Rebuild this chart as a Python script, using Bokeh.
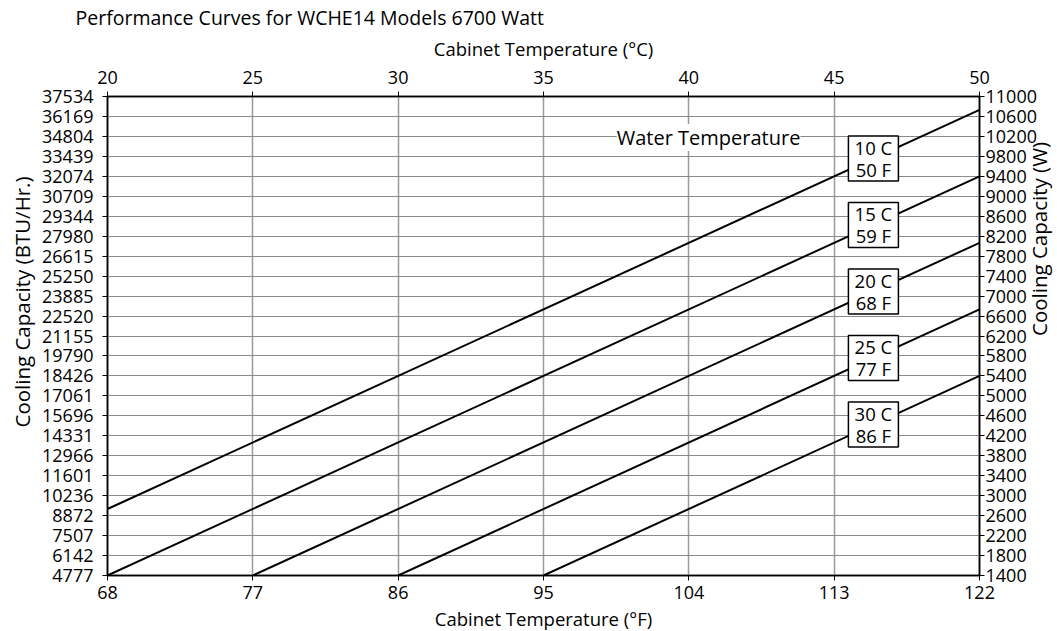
import math
from bokeh.plotting import figure
from bokeh.models import LinearAxis, FixedTicker, Label, ColumnDataSource, Range1d, Title
from bokeh.core.properties import value
from bokeh.embed import file_html
from bokeh.resources import INLINE

# ---- data ----
c_ticks = [20, 25, 30, 35, 40, 45, 50]
f_labels = ["68", "77", "86", "95", "104", "113", "122"]
w_ticks = list(range(1400, 11001, 400))
btu_labels = ["4777", "6142", "7507", "8872", "10236", "11601", "12966", "14331",
              "15696", "17061", "18426", "19790", "21155", "22520", "23885", "25250",
              "26615", "27980", "29344", "30709", "32074", "33439", "34804", "36169", "37534"]

water_c = ["10 C", "15 C", "20 C", "25 C", "30 C"]
water_f = ["50 F", "59 F", "68 F", "77 F", "86 F"]
start_c = [20, 20, 25, 30, 35]
start_w = [2733, 1400, 1400, 1400, 1400]
end_c = [50, 50, 50, 50, 50]
end_w = [10733, 9400, 8067, 6733, 5400]

FONT = "Open Sans"
TS = "18px"
LS = "18.5px"
SS = "20.5px"

p = figure(frame_width=872, frame_height=479,
           x_range=Range1d(20, 50), y_range=Range1d(1400, 11000),
           x_axis_location="above", output_backend="svg", toolbar_location=None,
           min_border_left=107, min_border_top=96, min_border_right=70, min_border_bottom=54)

p.title.text = "Performance Curves for WCHE14 Models 6700 Watt"
p.title.align = "left"
p.title.offset = -32
p.title.standoff = 3
p.title.text_font = FONT
p.title.text_font_size = "19.5px"
p.title.text_font_style = "normal"
p.title.text_color = "black"

def style_axis(ax, standoff):
    ax.major_label_text_font = FONT
    ax.major_label_text_font_size = TS
    ax.major_label_text_color = "black"
    ax.axis_label_text_font = FONT
    ax.axis_label_text_font_size = LS
    ax.axis_label_text_font_style = "normal"
    ax.axis_label_text_color = "black"
    ax.minor_tick_line_color = None
    ax.major_tick_in = 0
    ax.major_tick_out = 5
    ax.major_tick_line_color = "black"
    ax.axis_line_color = "black"
    ax.axis_line_width = 1.5
    ax.major_label_standoff = standoff
    ax.axis_label_standoff = 6

# top axis (°C)
top = p.xaxis[0]
top.ticker = FixedTicker(ticks=c_ticks)
top.axis_label = "Cabinet Temperature (°C)"
style_axis(top, 8)
top.axis_label_standoff = 7

# bottom axis (°F)
bottom = LinearAxis(ticker=FixedTicker(ticks=c_ticks),
                    major_label_overrides={c: f for c, f in zip(c_ticks, f_labels)},
                    axis_label="Cabinet Temperature (°F)")
style_axis(bottom, 5)
bottom.axis_label_standoff = 4
p.add_layout(bottom, "below")

# left axis (BTU/Hr)
left = p.yaxis[0]
left.ticker = FixedTicker(ticks=w_ticks)
left.major_label_overrides = {w: b for w, b in zip(w_ticks, btu_labels)}
style_axis(left, 9)

# right axis (W)
right = LinearAxis(ticker=FixedTicker(ticks=w_ticks), axis_label="Cooling Capacity (W)")
style_axis(right, 1)
right.axis_label_text_font_size = SS
right.axis_label_orientation = math.pi / 2
right.axis_label_standoff = -1
p.add_layout(right, "right")

# left side title (slightly above centre, as in the original)
lt = Title(text="Cooling Capacity (BTU/Hr.)", align="left", offset=148, standoff=8,
           text_font=FONT, text_font_size=SS, text_font_style="normal", text_color="black")
p.add_layout(lt, "left")

p.xgrid.ticker = FixedTicker(ticks=c_ticks)
p.xgrid.grid_line_color = "#9a9a9a"
p.xgrid.grid_line_width = 1.5
p.ygrid.ticker = FixedTicker(ticks=w_ticks)
p.ygrid.grid_line_color = "#8a8a8a"
p.ygrid.grid_line_width = 1

p.outline_line_color = "black"
p.outline_line_width = 1.5

# performance lines
p.multi_line(xs=[[s, e] for s, e in zip(start_c, end_c)],
             ys=[[s, e] for s, e in zip(start_w, end_w)],
             line_color="black", line_width=2)

# label boxes placed on each line
box_x = 46.35
box_y = [sw + (ew - sw) * (box_x - sc) / (ec - sc)
         for sc, sw, ec, ew in zip(start_c, start_w, end_c, end_w)]
src = ColumnDataSource(dict(x=[box_x] * 5, y=box_y, c=water_c, f=water_f))
p.rect(x="x", y="y", width=50, height=45, width_units="screen", height_units="screen",
       source=src, fill_color="white", line_color="black", line_width=1.5)
p.text(x="x", y="y", text="c", source=src, text_font=value(FONT), text_color="black",
       text_font_size=LS, text_align="center", text_baseline="middle", y_offset=-11)
p.text(x="x", y="y", text="f", source=src, text_font=value(FONT), text_color="black",
       text_font_size=LS, text_align="center", text_baseline="middle", y_offset=11)

p.add_layout(Label(x=40.68, y=10180, text="Water Temperature", text_font=FONT,
                   text_font_size="20px", text_align="center", text_baseline="middle",
                   background_fill_color="white", text_color="black"))

open("out.html", "w").write(file_html(p, INLINE))
